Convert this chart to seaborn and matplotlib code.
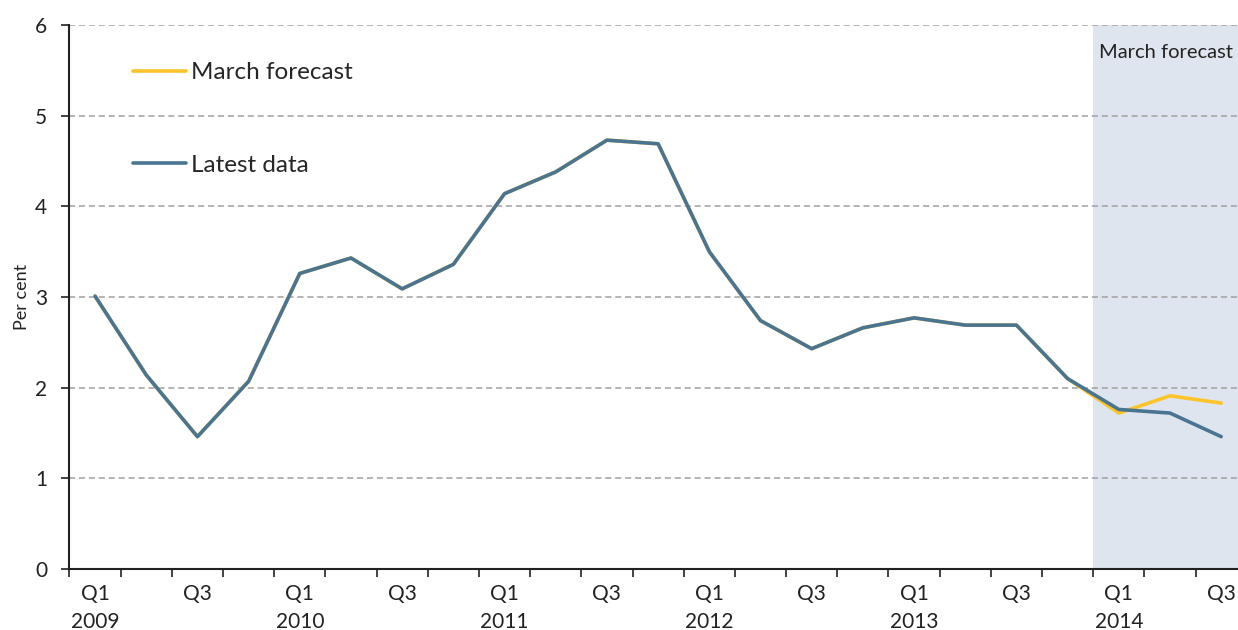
import matplotlib.pyplot as plt
import numpy as np
import pandas as pd
import seaborn as sns

# Data
quarters = ['Q1 2009', 'Q2 2009', 'Q3 2009', 'Q4 2009',
            'Q1 2010', 'Q2 2010', 'Q3 2010', 'Q4 2010',
            'Q1 2011', 'Q2 2011', 'Q3 2011', 'Q4 2011',
            'Q1 2012', 'Q2 2012', 'Q3 2012', 'Q4 2012',
            'Q1 2013', 'Q2 2013', 'Q3 2013', 'Q4 2013',
            'Q1 2014', 'Q2 2014', 'Q3 2014']
latest_data = [3.01, 2.14, 1.46, 2.07, 3.26, 3.43, 3.09, 3.36, 4.14, 4.38, 4.73, 4.69,
               3.50, 2.74, 2.43, 2.66, 2.77, 2.69, 2.69, 2.10, 1.76, 1.72, 1.46]
march_forecast = [3.01, 2.14, 1.46, 2.07, 3.26, 3.43, 3.09, 3.36, 4.14, 4.38, 4.73, 4.69,
                  3.50, 2.74, 2.43, 2.66, 2.77, 2.69, 2.69, 2.10, 1.72, 1.91, 1.83]
tick_labels = ['Q1\n2009', 'Q3', 'Q1\n2010', 'Q3', 'Q1\n2011', 'Q3',
               'Q1\n2012', 'Q3', 'Q1\n2013', 'Q3', 'Q1\n2014', 'Q3']
forecast_start = 'Q1 2014'

idx = np.arange(len(quarters))
df = pd.DataFrame({
    'idx': np.concatenate([idx, idx]),
    'value': march_forecast + latest_data,
    'series': ['March forecast'] * len(quarters) + ['Latest data'] * len(quarters),
})

sns.set_style('white')
plt.rcParams['font.family'] = ['Lato', 'DejaVu Sans']

fig = plt.figure(figsize=(12.38, 6.3), dpi=100)
ax = fig.add_axes([0.0561, 0.0968, 0.951, 0.8635])

# Shaded forecast period
fs = quarters.index(forecast_start)
ax.axvspan(fs - 0.5, len(quarters), color='#dfe5ee', zorder=0, lw=0)
ax.text(fs - 0.38, 5.7, 'March forecast', fontsize=14.5, color='#222222',
        va='center', ha='left', clip_on=True)

# Gridlines
for y in range(1, 7):
    ax.axhline(y, color='#a0a0a0', ls=(0, (4, 2.5)), lw=1.1, zorder=1)

sns.lineplot(data=df, x='idx', y='value', hue='series',
             hue_order=['March forecast', 'Latest data'],
             palette={'March forecast': '#fcc42a', 'Latest data': '#4a7592'},
             lw=2.6, ax=ax, zorder=3)

ax.set_xlim(-0.5, len(quarters) - 0.5)
ax.set_ylim(0, 6)
ax.set_yticks(range(0, 7))
ax.tick_params(axis='y', labelsize=15, length=6, width=1.2, color='#222222',
               labelcolor='#222222', direction='out', left=True, pad=10)

# x ticks: marks at category boundaries, labels at Q1/Q3
ax.set_xticks(np.arange(-0.5, len(quarters), 1))
ax.set_xticklabels([])
ax.set_xticks(idx[::2], minor=True)
ax.set_xticklabels(tick_labels, minor=True, fontsize=15, color='#222222',
                   linespacing=1.5)
ax.tick_params(axis='x', which='major', length=6, width=1.2, color='#222222',
               direction='out', bottom=True)
ax.tick_params(axis='x', which='minor', length=0, pad=11)

ax.set_xlabel('')
ax.set_ylabel('Per cent', fontsize=13, color='#222222', labelpad=4)

for s in ['top', 'right']:
    ax.spines[s].set_visible(False)
for s in ['left', 'bottom']:
    ax.spines[s].set_color('#222222')
    ax.spines[s].set_linewidth(1.5)
    ax.spines[s].set_zorder(4)

ax.legend(loc='upper left', bbox_to_anchor=(0.035, 0.972), frameon=False,
          fontsize=17.5, handlelength=2.2, handletextpad=0.2, labelspacing=2.95)

plt.savefig('out.png', dpi=100)
plt.clf()
